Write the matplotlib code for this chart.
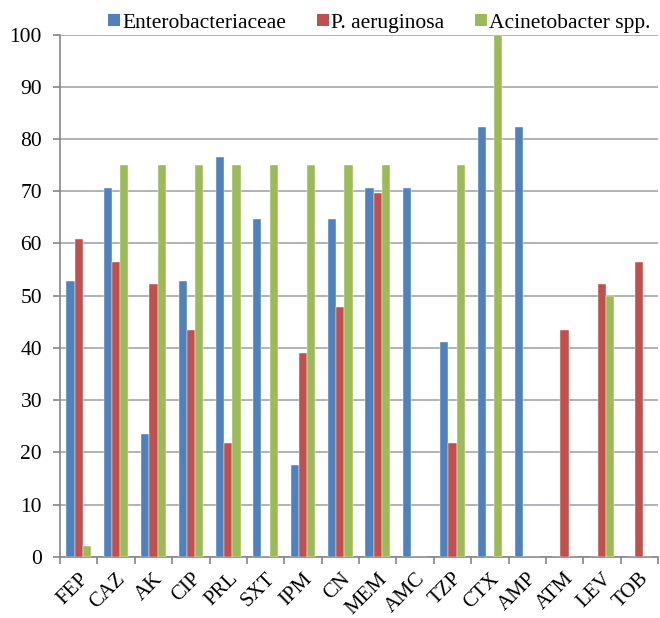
import matplotlib
matplotlib.use("Agg")
import matplotlib.pyplot as plt
import matplotlib.transforms as mtransforms
from matplotlib.lines import Line2D
import numpy as np

plt.rcParams['font.family'] = ['Liberation Serif', 'DejaVu Serif']

# antibiotic codes
drugs = ['FEP', 'CAZ', 'AK', 'CIP', 'PRL', 'SXT', 'IPM', 'CN', 'MEM', 'AMC',
         'TZP', 'CTX', 'AMP', 'ATM', 'LEV', 'TOB']

# resistance (%) per organism group
entero = [52.9, 70.6, 23.5, 52.9, 76.5, 64.7, 17.6, 64.7, 70.6, 70.6,
          41.2, 82.4, 82.4, 0, 0, 0]
pseudo = [60.9, 56.5, 52.2, 43.5, 21.7, 0, 39.1, 47.8, 69.6, 0,
          21.7, 0, 0, 43.5, 52.2, 56.5]
acineto = [2, 75, 75, 75, 75, 75, 75, 75, 75, 0,
           75, 100, 0, 0, 50, 0]

series_names = ['Enterobacteriaceae', 'P. aeruginosa', 'Acinetobacter spp.']
colors = ['#4F81BD', '#C0504D', '#9BBB59']
fs = 15.5

fig = plt.figure(figsize=(6.6, 6.18), dpi=100)
ax = fig.add_axes([0.091, 0.099, 0.906, 0.845])

x = np.arange(len(drugs))
w = 0.22
for i, (vals, name, c) in enumerate(zip([entero, pseudo, acineto], series_names, colors)):
    ax.bar(x + (i - 1) * w, vals, width=w, color=c, label=name, zorder=3,
           edgecolor='white', linewidth=0.3)

ax.set_xlim(-0.5, len(drugs) - 0.5)
ax.set_ylim(0, 100)
ax.set_yticks(np.arange(0, 101, 10))
ax.yaxis.grid(True, color='#b0b2bc', linewidth=1.4, zorder=0)
ax.set_axisbelow(True)

# category boundary ticks on the x axis, names at the centres
ax.set_xticks(np.arange(-0.5, len(drugs), 1.0))
ax.set_xticklabels([])
ax.set_xticks(x, minor=True)
ax.set_xticklabels(drugs, minor=True, rotation=45, ha='right',
                   rotation_mode='anchor', fontsize=15)
shift = mtransforms.ScaledTranslation(4 / 100, 0, fig.dpi_scale_trans)
for lbl in ax.get_xticklabels(minor=True):
    lbl.set_transform(lbl.get_transform() + shift)
ax.tick_params(axis='x', which='minor', length=0, pad=9)
ax.tick_params(axis='x', which='major', length=5, color='#868686', width=1.2)
ax.tick_params(axis='y', length=5, color='#868686', width=1.2, labelsize=fs, pad=8)

for s in ['top', 'right']:
    ax.spines[s].set_visible(False)
for s in ['left', 'bottom']:
    ax.spines[s].set_color('#868686')
    ax.spines[s].set_linewidth(1.2)

# square legend keys
keys = [Line2D([], [], marker='s', linestyle='none', markersize=8, color=c,
               markeredgewidth=0) for c in colors]
fig.legend(keys, series_names, loc='center left', bbox_to_anchor=(108 / 660, 1 - 23 / 618),
           ncol=3, frameon=False, fontsize=fs, handlelength=0.55,
           handletextpad=0.1, columnspacing=1.45, borderpad=0, borderaxespad=0)

fig.savefig('out.png', dpi=100)
